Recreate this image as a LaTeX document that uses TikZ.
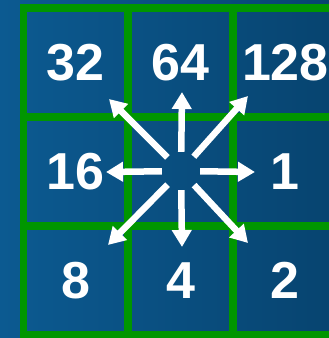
\documentclass[tikz,border=0pt]{standalone}
\usepackage{fontspec}
\setmainfont{Liberation Sans}
\usetikzlibrary{arrows.meta}
\definecolor{bgleft}{RGB}{12,90,145}
\definecolor{bgright}{RGB}{7,68,112}
\definecolor{gridgreen}{RGB}{0,150,0}
\begin{document}
\begin{tikzpicture}[x=1pt,y=-1pt,
  cell/.style={draw=gridgreen,line width=7.5pt,minimum width=104.75pt,minimum height=109pt,inner sep=0pt,
    text=white,font=\bfseries\fontsize{52}{52}\selectfont},
  arr/.style={-{Triangle[width=19pt,length=17pt]},line width=6.5pt,white}]
\useasboundingbox (0,0) rectangle (329,338);
\clip (0,0) rectangle (329,338);
% background
\shade[left color=bgleft,right color=bgright] (0,0) rectangle (329,338);
% grid of weights
\node[cell] (n32) at (75.9,62.5) {32};
\node[cell] (n64) at (180.6,62.5) {64};
\node[cell] (n128) at (285.4,62.5) {128};
\node[cell] (n16) at (75.9,171.5) {16};
\node[cell] (mid) at (180.6,171.5) {};
\node[cell] (n1) at (285.4,171.5) {1};
\node[cell] (n8) at (75.9,280.5) {8};
\node[cell] (n4) at (180.6,280.5) {4};
\node[cell] (n2) at (285.4,280.5) {2};
% arrows out of the centre
\node[circle,minimum size=38pt,inner sep=0pt] (hub) at (181,171) {};
\coordinate (eE) at (255,172);
\coordinate (eW) at (106,172);
\coordinate (eN) at (182,92);
\coordinate (eS) at (182,247);
\coordinate (eNW) at (109,99);
\coordinate (eNE) at (248,96);
\coordinate (eSW) at (108,245);
\coordinate (eSE) at (248,243);
\foreach \e in {eE,eW,eN,eS,eNW,eNE,eSW,eSE}
  \draw[arr] (hub) -- (\e);
\end{tikzpicture}
\end{document}
